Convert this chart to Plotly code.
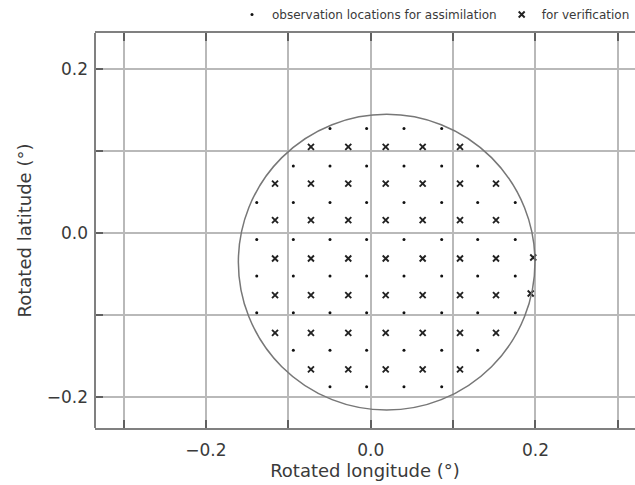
import plotly.graph_objects as go

# ---- data (rotated lon/lat, degrees) ----
obs_lat_rows = [0.1273, 0.0818, 0.0372, -0.0078, -0.0521, -0.0971, -0.1425, -0.1871]
obs_lon_rows = [
    [-0.0494, -0.0049, 0.0404, 0.0862],
    [-0.0939, -0.0494, -0.0049, 0.0404, 0.0862, 0.1299],
    [-0.1383, -0.0939, -0.0494, -0.0049, 0.0404, 0.0862, 0.1299, 0.1755],
    [-0.1383, -0.0939, -0.0494, -0.0049, 0.0404, 0.0862, 0.1299, 0.1755],
    [-0.1383, -0.0939, -0.0494, -0.0049, 0.0404, 0.0862, 0.1299, 0.1755],
    [-0.1383, -0.0939, -0.0494, -0.0049, 0.0404, 0.0862, 0.1299, 0.1755],
    [-0.0939, -0.0494, -0.0049, 0.0404, 0.0862, 0.1299],
    [-0.0494, -0.0049, 0.0404, 0.0862],
]

ver_lat_rows = [
    [0.1049] * 5,
    [0.0603] * 7,
    [0.0157] * 7,
    [-0.0309] * 7 + [-0.0297],
    [-0.0755] * 7 + [-0.0735],
    [-0.1214] * 7,
    [-0.1659] * 5,
]
ver_lon_rows = [
    [-0.0725, -0.0272, 0.0182, 0.0631, 0.1084],
    [-0.1161, -0.0725, -0.0272, 0.0182, 0.0631, 0.1084, 0.1521],
    [-0.1161, -0.0725, -0.0272, 0.0182, 0.0631, 0.1084, 0.1521],
    [-0.1161, -0.0725, -0.0272, 0.0182, 0.0631, 0.1084, 0.1521, 0.1973],
    [-0.1161, -0.0725, -0.0272, 0.0182, 0.0631, 0.1084, 0.1521, 0.1942],
    [-0.1161, -0.0725, -0.0272, 0.0182, 0.0631, 0.1084, 0.1521],
    [-0.0725, -0.0272, 0.0182, 0.0631, 0.1084],
]

circle_center = (0.0194, -0.0354)
circle_radius = 0.180

tick_vals = [-0.3, -0.2, -0.1, 0.0, 0.1, 0.2, 0.3]
tick_text = ["", "\u22120.2", "", "0.0", "", "0.2", ""]

obs_lon, obs_lat = [], []
for lat, lons in zip(obs_lat_rows, obs_lon_rows):
    obs_lon += lons
    obs_lat += [lat] * len(lons)
ver_lon, ver_lat = [], []
for lats, lons in zip(ver_lat_rows, ver_lon_rows):
    ver_lon += lons
    ver_lat += lats

FONT = "DejaVu Sans"
TXT = "#3a3a3a"

fig = go.Figure()
fig.add_trace(go.Scatter(
    x=obs_lon, y=obs_lat, mode="markers",
    name="observation locations for assimilation",
    marker=dict(symbol="circle", size=3, color="#111111", line=dict(width=0)),
))
fig.add_trace(go.Scatter(
    x=ver_lon, y=ver_lat, mode="markers",
    name="for verification",
    marker=dict(symbol="x-thin-open", size=6, color="#222222",
                line=dict(width=1.9, color="#222222")),
))

cx, cy = circle_center
fig.add_shape(type="circle", xref="x", yref="y",
              x0=cx - circle_radius, x1=cx + circle_radius,
              y0=cy - circle_radius, y1=cy + circle_radius,
              line=dict(color="#777777", width=1.5), layer="above")
# left frame line
fig.add_shape(type="line", xref="paper", yref="paper", x0=0, x1=0, y0=0, y1=1,
              line=dict(color="#808080", width=2), layer="above")

axis_common = dict(
    showgrid=True, gridcolor="#b9b9b9", gridwidth=1.5,
    zeroline=False,
    ticks="inside", ticklen=8, tickwidth=1.5, tickcolor="#606060",
    tickfont=dict(family=FONT, size=17, color=TXT),
    tickvals=tick_vals, ticktext=tick_text,
)

fig.update_layout(
    width=635, height=485,
    margin=dict(l=95, r=0, t=33, b=57),
    paper_bgcolor="white", plot_bgcolor="white",
    font=dict(family=FONT, color=TXT),
    xaxis=dict(range=[-0.3346, 0.3208], mirror="ticks",
               showline=True, linecolor="#808080", linewidth=2,
               title=dict(text="Rotated longitude (\u00b0)", font=dict(family=FONT, size=18, color=TXT), standoff=5),
               ticklabelstandoff=6, **axis_common),
    yaxis=dict(range=[-0.2373, 0.2436], mirror=False, showline=False,
               title=dict(text="Rotated latitude (\u00b0)", font=dict(family=FONT, size=18, color=TXT), standoff=10),
               ticklabelstandoff=6, **axis_common),
    showlegend=True,
    legend=dict(orientation="h", x=1.0, xanchor="right", y=1.047, yanchor="middle",
                font=dict(family=FONT, size=12, color=TXT),
                bgcolor="rgba(0,0,0,0)", itemwidth=30, tracegroupgap=0),
)

fig.write_html("out.html")
